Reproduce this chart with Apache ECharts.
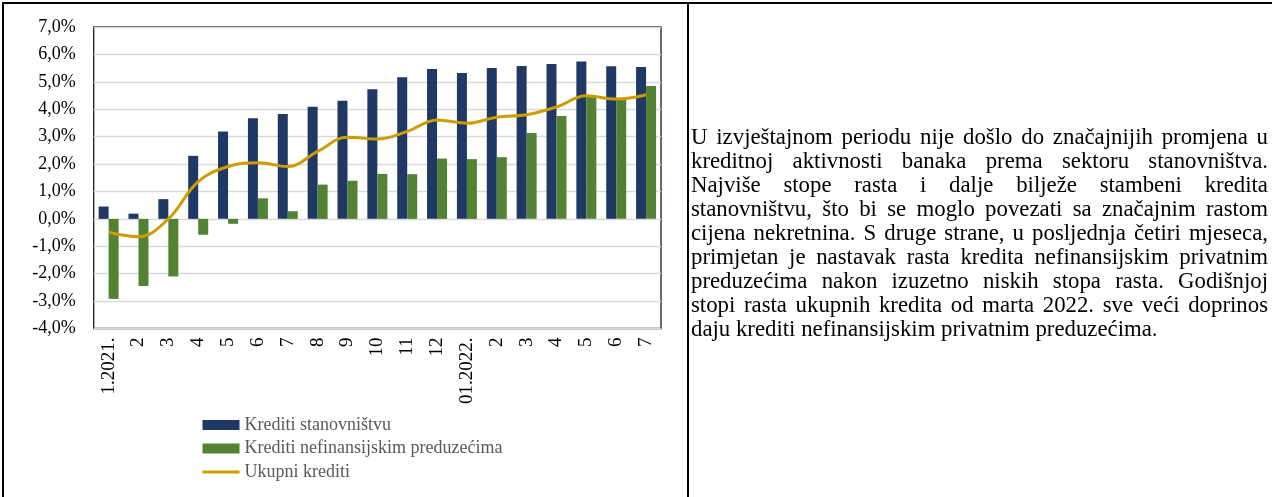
<!DOCTYPE html>
<html>
<head>
<meta charset="utf-8">
<script src="https://cdn.jsdelivr.net/npm/echarts@6/dist/echarts.min.js"></script>
<style>
  html, body { margin:0; padding:0; background:#fff; }
  body { width:1272px; height:497px; position:relative; overflow:hidden; font-family:"Liberation Serif","Times New Roman",serif; }
  #chart { position:absolute; left:0; top:0; width:1272px; height:497px; }
  .bl { position:absolute; background:#000; }
  #txt { position:absolute; left:691px; top:125px; width:577px; font-size:22.8px; line-height:24px; color:#000; }
  #txt div { white-space:nowrap; text-align:justify; text-align-last:justify; }
  #txt div.last { text-align:left; text-align-last:left; }
</style>
</head>
<body>
<div id="chart"></div>
<div class="bl" style="left:2px;top:2px;width:1270px;height:2px;"></div>
<div class="bl" style="left:2px;top:2px;width:2px;height:495px;"></div>
<div class="bl" style="left:687px;top:2px;width:2px;height:495px;"></div>
<div id="txt">
<div>U izvještajnom periodu nije došlo do značajnijih promjena u</div>
<div>kreditnoj aktivnosti banaka prema sektoru stanovništva.</div>
<div>Najviše stope rasta i dalje bilježe stambeni kredita</div>
<div>stanovništvu, što bi se moglo povezati sa značajnim rastom</div>
<div>cijena nekretnina. S druge strane, u posljednja četiri mjeseca,</div>
<div>primjetan je nastavak rasta kredita nefinansijskim privatnim</div>
<div>preduzećima nakon izuzetno niskih stopa rasta. Godišnjoj</div>
<div>stopi rasta ukupnih kredita od marta 2022. sve veći doprinos</div>
<div class="last">daju krediti nefinansijskim privatnim preduzećima.</div>
</div>
<script>
const categories = ['1.2021.','2','3','4','5','6','7','8','9','10','11','12','01.2022.','2','3','4','5','6','7'];
const krStanovnistvu = [0.45,0.19,0.72,2.30,3.19,3.67,3.83,4.09,4.31,4.73,5.17,5.47,5.32,5.50,5.58,5.65,5.74,5.57,5.54];
const krPreduzecima = [-2.92,-2.45,-2.10,-0.58,-0.18,0.75,0.28,1.25,1.39,1.64,1.63,2.20,2.18,2.25,3.13,3.75,4.46,4.34,4.85];
const ukupniKrediti = [-0.49,-0.65,0.00,1.36,1.91,2.05,1.91,2.46,2.98,2.91,3.19,3.61,3.49,3.71,3.80,4.08,4.49,4.37,4.53];
const seriesNames = ['Krediti stanovništvu','Krediti nefinansijskim preduzećima','Ukupni krediti'];

const FONT = 'Liberation Serif';
const chart = echarts.init(document.getElementById('chart'), null, {renderer:'canvas'});
chart.setOption({
  animation:false,
  textStyle:{ fontFamily:FONT },
  grid:{ left:93.7, right:611, top:27, bottom:168.5, show:true, borderColor:'#1a1a1a', borderWidth:1.3, backgroundColor:'transparent' },
  legend:{
    orient:'vertical', left:196, top:411, itemWidth:37, itemHeight:10, itemGap:5.5,
    textStyle:{ fontFamily:FONT, fontSize:18, color:'#595959', lineHeight:17 },
    data:[
      { name:seriesNames[0], icon:'rect' },
      { name:seriesNames[1], icon:'rect' },
      { name:seriesNames[2], itemStyle:{ opacity:0 }, lineStyle:{ width:3 } }
    ]
  },
  xAxis:{
    type:'category', data:categories,
    axisLine:{ show:false, onZero:false }, axisTick:{ show:false },
    axisLabel:{ interval:0, rotate:90, margin:9, fontFamily:FONT, fontSize:19, color:'#000' }
  },
  yAxis:{
    type:'value', min:-4, max:7, interval:1,
    axisLine:{ show:false }, axisTick:{ show:false },
    splitLine:{ lineStyle:{ color:'#d9d9d9', width:1.3 } },
    axisLabel:{ margin:18, fontFamily:FONT, fontSize:18, color:'#000',
      formatter: v => v.toFixed(1).replace('.', ',') + '%' }
  },
  series:[
    { name:seriesNames[0], type:'bar', data:krStanovnistvu, barWidth:10, barGap:'0%', itemStyle:{ color:'#203864' } },
    { name:seriesNames[1], type:'bar', data:krPreduzecima, barWidth:10, barGap:'0%', itemStyle:{ color:'#548235' } },
    { name:seriesNames[2], type:'line', data:ukupniKrediti, smooth:0.4, symbol:'none', z:5,
      lineStyle:{ color:'#cc9c00', width:3 }, itemStyle:{ color:'#cc9c00' } }
  ]
});
</script>
</body>
</html>
